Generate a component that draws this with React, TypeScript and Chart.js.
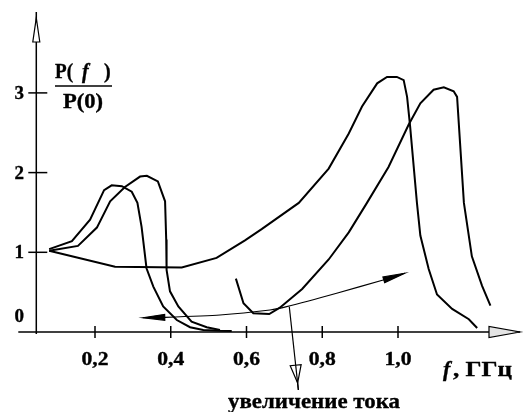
import React, { useEffect, useRef } from "react";
import { Chart, registerables } from "chart.js";

Chart.register(...registerables);

// ---- data ----
const curveAF = [0.079, 0.139, 0.187, 0.224, 0.244, 0.271, 0.297, 0.312, 0.323, 0.336, 0.354, 0.38, 0.416, 0.451, 0.486, 0.53, 0.561];
const curveAV = [1.04, 1.14, 1.41, 1.78, 1.84, 1.83, 1.76, 1.62, 1.32, 0.8, 0.57, 0.32, 0.15, 0.06, 0.025, 0.016, 0.013];

const curveBF = [0.079, 0.155, 0.205, 0.24, 0.279, 0.319, 0.337, 0.366, 0.385, 0.388, 0.389, 0.398, 0.42, 0.455, 0.495, 0.53];
const curveBV = [1.02, 1.08, 1.31, 1.64, 1.82, 1.95, 1.96, 1.89, 1.64, 1.16, 0.78, 0.51, 0.32, 0.13, 0.06, 0.025];

const curveCF = [0.079, 0.253, 0.429, 0.521, 0.596, 0.64, 0.738, 0.817, 0.87, 0.905, 0.945, 0.971, 0.997, 1.015, 1.024, 1.032, 1.05, 1.059, 1.081, 1.103, 1.143, 1.187, 1.209];
const curveCV = [1.02, 0.82, 0.81, 0.93, 1.15, 1.29, 1.62, 2.05, 2.49, 2.83, 3.12, 3.2, 3.2, 3.16, 2.95, 2.58, 1.62, 1.21, 0.79, 0.47, 0.29, 0.16, 0.05];

const curveDF = [0.572, 0.592, 0.618, 0.66, 0.688, 0.747, 0.817, 0.87, 0.918, 0.975, 1.028, 1.059, 1.094, 1.121, 1.147, 1.156, 1.174, 1.195, 1.222, 1.244];
const curveDV = [0.67, 0.36, 0.235, 0.226, 0.305, 0.54, 0.91, 1.25, 1.62, 2.07, 2.6, 2.87, 3.04, 3.07, 3.02, 2.95, 1.62, 0.95, 0.58, 0.33];

// annotation arrows
const arrowCurveF = [0.326, 0.385, 0.53, 0.662, 0.706, 0.838, 0.961, 1.018];
const arrowCurveV = [0.179, 0.184, 0.213, 0.276, 0.318, 0.486, 0.653, 0.737];
const downArrowF = [0.713, 0.737];
const downArrowV = [0.317, -0.728];

// ticks and labels
const xTickValues = [0.2, 0.4, 0.6, 0.8, 1.0];
const xTickLabels = ["0,2", "0,4", "0,6", "0,8", "1,0"];
const yTickValues = [1, 2, 3];
const yLabelValues = [0, 1, 2, 3];
const yTickLabels = ["0", "1", "2", "3"];
const yTitleParts = ["P(", "f", ")"];
const yTitleDenominator = "P(0)";
const xTitleSymbol = "f";
const xTitleUnit = ", ГГц";
const annotationText = "увеличение тока";

// ---- layout constants ----
const W = 524;
const H = 412;
const PX0 = 19.25; // pixel of f = 0
const PXK = 378.75; // pixels per 1 GHz
const PY0 = 332; // pixel of value 0
const PYK = 79.7; // pixels per unit
const Y_AXIS_F = 0.045;

const FAMILY = "Liberation Serif";
const SERIF = `"${FAMILY}", serif`;
const BOLD = `bold 19px ${SERIF}`;
const BOLD_ITALIC = `italic bold 20px ${SERIF}`;

const pts = (xs: number[], ys: number[]) => xs.map((x, i) => ({ x, y: ys[i] }));

function drawText(ctx: CanvasRenderingContext2D, text: string, x: number, y: number, font: string, width?: number, align: "left" | "center" = "left") {
  ctx.save();
  ctx.font = font;
  ctx.textBaseline = "alphabetic";
  ctx.textAlign = "left";
  const w = ctx.measureText(text).width;
  const s = width ? width / w : 1;
  const realW = w * s;
  const left = align === "center" ? x - realW / 2 : x;
  ctx.translate(left, y);
  ctx.scale(s, 1);
  ctx.fillStyle = "#000";
  ctx.strokeStyle = "#000";
  ctx.lineWidth = 0.35;
  ctx.fillText(text, 0, 0);
  ctx.strokeText(text, 0, 0);
  ctx.restore();
}

function arrowHead(ctx: CanvasRenderingContext2D, tx: number, ty: number, fx: number, fy: number, len: number, half: number, hollow: boolean, fill = "#fff") {
  const dx = tx - fx;
  const dy = ty - fy;
  const d = Math.hypot(dx, dy) || 1;
  const ux = dx / d;
  const uy = dy / d;
  const bx = tx - ux * len;
  const by = ty - uy * len;
  ctx.beginPath();
  ctx.moveTo(tx, ty);
  ctx.lineTo(bx - uy * half, by + ux * half);
  ctx.lineTo(bx + uy * half, by - ux * half);
  ctx.closePath();
  ctx.fillStyle = hollow ? fill : "#000";
  ctx.fill();
  ctx.strokeStyle = "#000";
  ctx.lineWidth = 1.2;
  ctx.stroke();
}

const axesPlugin = {
  id: "axesPlugin",
  beforeDatasetsDraw(chart: any) {
    const ctx: CanvasRenderingContext2D = chart.ctx;
    const xs = chart.scales.x;
    const ys = chart.scales.y;
    const ax = xs.getPixelForValue(Y_AXIS_F);
    const ay = ys.getPixelForValue(0);
    ctx.save();
    ctx.strokeStyle = "#000";
    ctx.lineWidth = 1.5;
    // x axis
    ctx.beginPath();
    ctx.moveTo(ax - 18, ay);
    ctx.lineTo(W - 4, ay);
    ctx.stroke();
    // y axis
    ctx.beginPath();
    ctx.moveTo(ax, ay + 2);
    ctx.lineTo(ax, 12);
    ctx.stroke();
    // ticks
    xTickValues.forEach((v) => {
      const p = xs.getPixelForValue(v);
      ctx.beginPath();
      ctx.moveTo(p, ay - 6);
      ctx.lineTo(p, ay + 6);
      ctx.stroke();
    });
    yTickValues.forEach((v) => {
      const p = ys.getPixelForValue(v);
      ctx.beginPath();
      ctx.moveTo(ax - 8, p);
      ctx.lineTo(ax + 11, p);
      ctx.stroke();
    });
    // arrowheads on axes
    arrowHead(ctx, W - 4, ay, W - 40, ay, 31, 5.5, true, "#e4e4e4");
    arrowHead(ctx, ax, 18, ax, 60, 24, 3.5, true, "#fff");
    // tick labels
    xTickValues.forEach((v, i) => {
      const p = xs.getPixelForValue(v);
      drawText(ctx, xTickLabels[i], p, ay + 33, BOLD, 27, "center");
    });
    yLabelValues.forEach((v, i) => {
      const p = Math.min(ys.getPixelForValue(v), ay - 16);
      drawText(ctx, yTickLabels[i], ax - 17, p + 6, BOLD, undefined, "center");
    });
    ctx.restore();
  },
  afterDatasetsDraw(chart: any) {
    const ctx: CanvasRenderingContext2D = chart.ctx;
    const xs = chart.scales.x;
    const ys = chart.scales.y;
    ctx.save();
    // double arrow heads
    const n = arrowCurveF.length;
    const p0x = xs.getPixelForValue(arrowCurveF[0]);
    const p0y = ys.getPixelForValue(arrowCurveV[0]);
    const p1x = xs.getPixelForValue(arrowCurveF[1]);
    const p1y = ys.getPixelForValue(arrowCurveV[1]);
    arrowHead(ctx, p0x, p0y, p1x, p1y, 22, 3, false);
    const pnx = xs.getPixelForValue(arrowCurveF[n - 1]);
    const pny = ys.getPixelForValue(arrowCurveV[n - 1]);
    const pmx = xs.getPixelForValue(arrowCurveF[n - 2]);
    const pmy = ys.getPixelForValue(arrowCurveV[n - 2]);
    arrowHead(ctx, pnx, pny, pmx, pmy, 22, 3, false);
    // down arrow hollow head
    const sx = xs.getPixelForValue(downArrowF[0]);
    const sy = ys.getPixelForValue(downArrowV[0]);
    const ex = xs.getPixelForValue(downArrowF[1]);
    const ey = ys.getPixelForValue(downArrowV[1]);
    const d = Math.hypot(ex - sx, ey - sy);
    const tx = ex - ((ex - sx) / d) * 7;
    const ty = ey - ((ey - sy) / d) * 7;
    arrowHead(ctx, tx, ty, sx, sy, 18, 5.5, true, "#fff");
    ctx.beginPath();
    ctx.moveTo(sx + ((ex - sx) / d) * (d - 25), sy + ((ey - sy) / d) * (d - 25));
    ctx.lineTo(ex, ey);
    ctx.lineWidth = 1.2;
    ctx.stroke();

    // y title (fraction)
    drawText(ctx, yTitleParts[0], 55, 78, `bold 20px ${SERIF}`, 18);
    drawText(ctx, yTitleParts[1], 82, 78, BOLD_ITALIC);
    drawText(ctx, yTitleParts[2], 104, 78, `bold 20px ${SERIF}`);
    ctx.beginPath();
    ctx.moveTo(55, 86);
    ctx.lineTo(112, 86);
    ctx.lineWidth = 1.5;
    ctx.strokeStyle = "#000";
    ctx.stroke();
    drawText(ctx, yTitleDenominator, 63, 108, `bold 20px ${SERIF}`, 40);

    // x title
    drawText(ctx, xTitleSymbol, 443, 376, `italic bold 22px ${SERIF}`);
    drawText(ctx, xTitleUnit, 453, 376, `bold 21px ${SERIF}`, 59);

    // annotation
    drawText(ctx, annotationText, 228, 408, `bold 21px ${SERIF}`, 172);
    ctx.restore();
  },
};

export default function App() {
  const ref = useRef<HTMLCanvasElement | null>(null);
  useEffect(() => {
    if (!ref.current) return;
    const curveStyle = {
      borderColor: "#000",
      borderWidth: 2,
      pointRadius: 0,
      tension: 0,
      fill: false,
      showLine: true,
      clip: false as any,
    };
    const chart = new Chart(ref.current, {
      type: "line",
      data: {
        datasets: [
          { ...curveStyle, data: pts(curveAF, curveAV) },
          { ...curveStyle, data: pts(curveBF, curveBV) },
          { ...curveStyle, data: pts(curveCF, curveCV) },
          { ...curveStyle, data: pts(curveDF, curveDV) },
          { ...curveStyle, borderWidth: 1.2, tension: 0.2, data: pts(arrowCurveF, arrowCurveV) },
          { ...curveStyle, borderWidth: 1.2, data: pts(downArrowF, downArrowV) },
        ],
      },
      options: {
        responsive: false,
        maintainAspectRatio: false,
        devicePixelRatio: 1,
        animation: false,
        events: [],
        layout: { padding: 0 },
        scales: {
          x: { type: "linear", display: false, min: -PX0 / PXK, max: (W - PX0) / PXK },
          y: { type: "linear", display: false, min: (PY0 - H) / PYK, max: PY0 / PYK },
        },
        plugins: { legend: { display: false }, tooltip: { enabled: false } },
      },
      plugins: [axesPlugin],
    });
    let alive = true;
    const redraw = () => {
      if (alive) chart.render();
    };
    const fonts: any = (document as any).fonts;
    if (fonts && fonts.load) {
      Promise.all([
        fonts.load(`bold 20px "${FAMILY}"`, "Pf0ГГцу"),
        fonts.load(`italic bold 20px "${FAMILY}"`, "f"),
      ])
        .then(redraw)
        .catch(() => {});
      if (fonts.ready) fonts.ready.then(redraw).catch(() => {});
    }
    const t1 = setTimeout(redraw, 30);
    const t2 = setTimeout(redraw, 200);
    return () => {
      alive = false;
      clearTimeout(t1);
      clearTimeout(t2);
      chart.destroy();
    };
  }, []);
  return (
    <div style={{ position: "fixed", left: 0, top: 0, width: W, height: H, background: "#fff" }}>
      <div
        aria-hidden="true"
        style={{ position: "absolute", left: 0, top: 0, opacity: 0, pointerEvents: "none", fontFamily: SERIF, fontWeight: "bold", fontSize: 20 }}
      >
        <span>Pf0ГГцу</span>
        <span style={{ fontStyle: "italic" }}>f</span>
      </div>
      <canvas ref={ref} width={W} height={H} style={{ position: "relative", display: "block", width: W, height: H }} />
    </div>
  );
}
